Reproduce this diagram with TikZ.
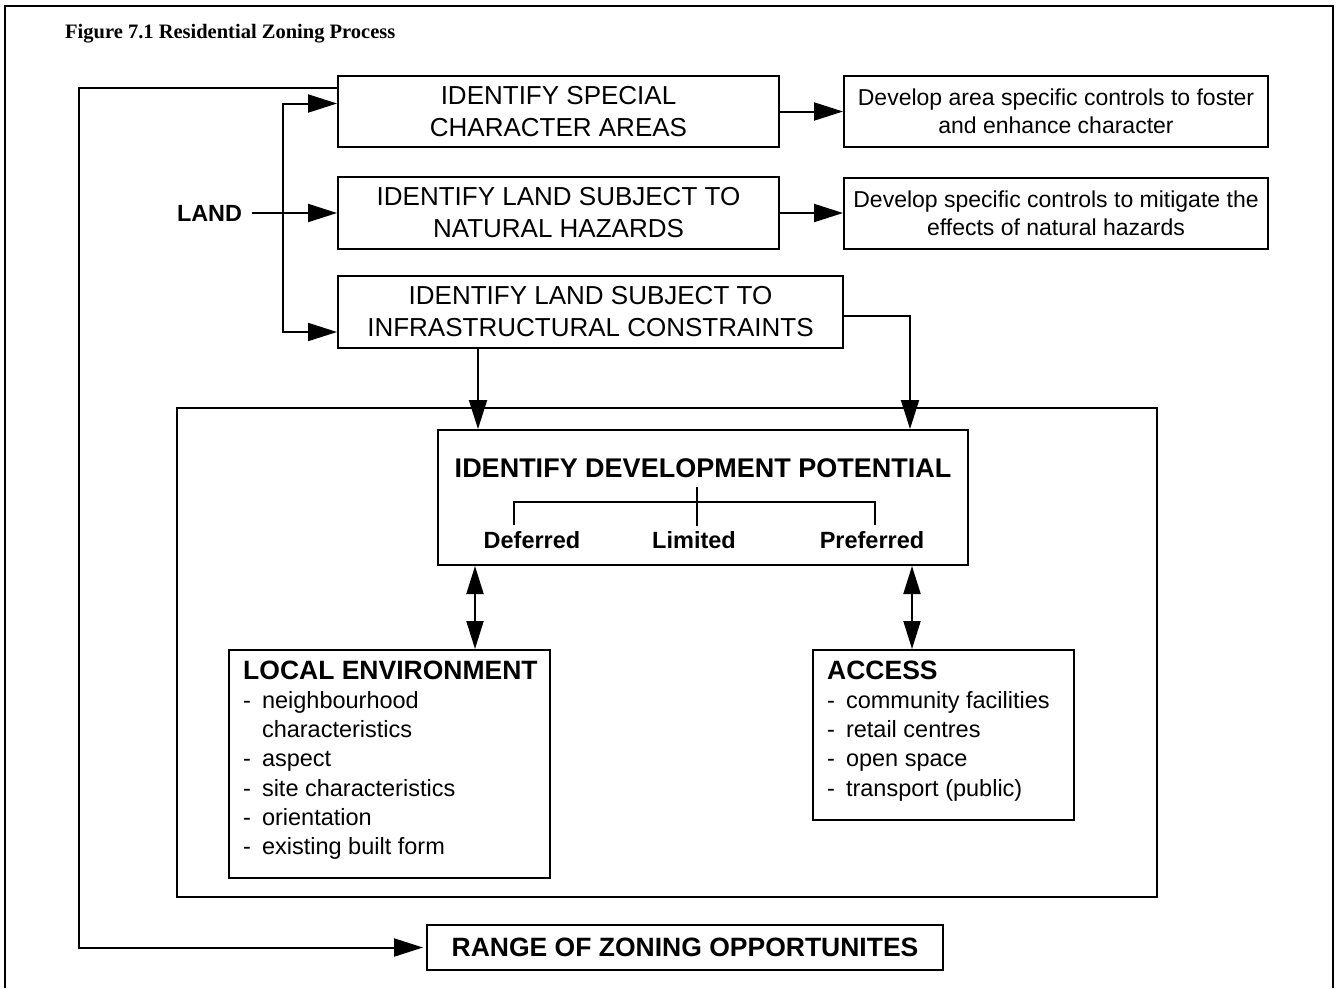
\documentclass[tikz,border=0pt]{standalone}
\usepackage{fontspec}
\setmainfont{Liberation Sans}
\newfontfamily\captionfont{Liberation Serif}
\usetikzlibrary{arrows.meta}

\newcommand{\fsz}[2]{\fontsize{#1}{#2}\selectfont}

\tikzset{
  box/.style={draw, line width=2pt, rectangle, inner sep=0pt, align=center},
  arr/.style={line width=2pt, -{Triangle[length=29pt,width=18pt]}},
  dbl/.style={line width=2pt, {Triangle[length=28pt,width=17pt]}-{Triangle[length=28pt,width=17pt]}},
}

\begin{document}
\begin{tikzpicture}[x=1pt,y=-1pt]
      \useasboundingbox (0,0) rectangle (1337,988);
      % page frame, open at the bottom
      \draw[line width=1.3pt] (5,988) -- (5,6) -- (1333,6) -- (1333,988);
      \node[anchor=base west, inner sep=0pt] (caption) at (65,38)
        {\captionfont\bfseries\fsz{20.5}{24}Figure 7.1 Residential Zoning Process};

      % land boxes
      \node[box, minimum width=441, minimum height=71, font=\fsz{26}{32}] (special) at (558.5,111.5)
        {IDENTIFY SPECIAL\\CHARACTER AREAS};
      \node[box, minimum width=441, minimum height=72, font=\fsz{26}{32}] (natural) at (558.5,213)
        {IDENTIFY LAND SUBJECT TO\\NATURAL HAZARDS};
      \node[box, minimum width=505, minimum height=72, font=\fsz{26}{32}] (infra) at (590.5,312)
        {IDENTIFY LAND SUBJECT TO\\INFRASTRUCTURAL CONSTRAINTS};
      \node[box, minimum width=424, minimum height=71, font=\fsz{23}{28}] (areactl) at (1056,111.5)
        {Develop area specific controls to foster\\and enhance character};
      \node[box, minimum width=424, minimum height=71, font=\fsz{23}{28}] (hazardctl) at (1056,213)
        {Develop specific controls to mitigate the\\effects of natural hazards};
      \node[inner xsep=10pt, font=\bfseries\fsz{23.4}{28}] (land) at (209.5,213) {LAND};

      % development potential
      \node[draw, line width=1.8pt, anchor=north west, minimum width=980, minimum height=489, inner sep=0pt] (zone) at (176,407) {};
      \node[box, minimum width=530, minimum height=135] (devpot) at (703,497.5) {};
      \node[anchor=base, font=\bfseries\fsz{27}{32}] (devtitle) at (703,477) {IDENTIFY DEVELOPMENT POTENTIAL};
      \node[anchor=base, font=\bfseries\fsz{23.5}{28}] (deferred) at (532,548) {Deferred};
      \node[anchor=base, font=\bfseries\fsz{23.5}{28}] (limited) at (694,548) {Limited};
      \node[anchor=base, font=\bfseries\fsz{23.5}{28}] (preferred) at (872,548) {Preferred};
      \draw[line width=1.8pt] (514,525) |- (875,502) -- (875,525);
      \draw[line width=1.8pt] (697,487) -- (697,526);

      \node[box, anchor=north west, minimum width=321, minimum height=228] (env) at (228,649) {};
      \node[anchor=base west, inner sep=0pt, font=\fsz{23.5}{29.3}] (envtext) at (243,679)
        {\begin{tabular}[t]{@{}l@{\hspace{11pt}}l@{}}
          \multicolumn{2}{@{}l@{}}{\bfseries\fsz{26.5}{29.3}LOCAL ENVIRONMENT}\\
          - & neighbourhood\\
            & characteristics\\
          - & aspect\\
          - & site characteristics\\
          - & orientation\\
          - & existing built form
        \end{tabular}};
      \node[box, anchor=north west, minimum width=261, minimum height=170] (access) at (812,649) {};
      \node[anchor=base west, inner sep=0pt, font=\fsz{23.5}{29.3}] (accesstext) at (827,679)
        {\begin{tabular}[t]{@{}l@{\hspace{11pt}}l@{}}
          \multicolumn{2}{@{}l@{}}{\bfseries\fsz{26.5}{29.3}ACCESS}\\
          - & community facilities\\
          - & retail centres\\
          - & open space\\
          - & transport (public)
        \end{tabular}};

      \node[box, minimum width=516, minimum height=45, font=\bfseries\fsz{26.5}{30}] (range) at (685,947.5)
        {RANGE OF ZONING OPPORTUNITES};

      % connectors
      \coordinate (split) at (283,213);
      \draw[arr] (special.east) -- (areactl.west);
      \draw[arr] (natural.east) -- (hazardctl.west);
      \draw[arr] (land.east) -- (natural.west);
      \draw[arr] (split) |- ([yshift=8pt]special.west);
      \draw[arr] (split) |- ([yshift=-20pt]infra.west);
      \draw[arr] ([xshift=-112.5pt]infra.south) -- ([xshift=-112.5pt]infra.south |- devpot.north);
      \draw[arr] ([yshift=-4pt]infra.east) -| ([xshift=207pt]devpot.north);
      \draw[dbl] ([xshift=-228pt]devpot.south) -- ([xshift=-228pt]devpot.south |- env.north);
      \draw[dbl] ([xshift=209pt]devpot.south) -- ([xshift=209pt]devpot.south |- access.north);
      \draw[arr, shorten >=3pt] ([yshift=23.5pt]special.west) -- ++(-258,0) |- (range.west);
    \end{tikzpicture}
\end{document}
